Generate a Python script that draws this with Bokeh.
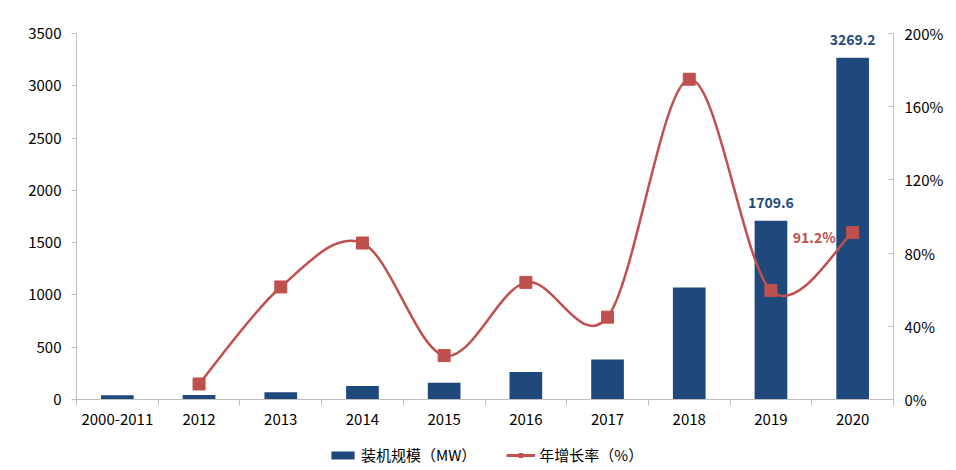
from bokeh.plotting import figure
from bokeh.layouts import column
from bokeh.models import (Range1d, LinearAxis, FixedTicker, PrintfTickFormatter,
                          Legend, LegendItem, ColumnDataSource)
from bokeh.core.properties import value
from bokeh.embed import file_html
from bokeh.resources import INLINE

# ---- data ----
categories = ["2000-2011", "2012", "2013", "2014", "2015", "2016", "2017", "2018", "2019", "2020"]
capacity = [39.8, 43.1, 70.0, 130.0, 161.0, 264.0, 383.0, 1072.0, 1709.6, 3269.2]
growth_years = ["2012", "2013", "2014", "2015", "2016", "2017", "2018", "2019", "2020"]
growth = [8.5, 61.5, 85.5, 24.0, 64.0, 45.0, 175.0, 59.5, 91.2]
cap_label_years = ["2019", "2020"]
cap_label_text = ["1709.6", "3269.2"]
growth_label_years = ["2020"]
growth_label_text = ["91.2%"]
left_ticks = [0, 500, 1000, 1500, 2000, 2500, 3000, 3500]
right_ticks = [0, 40, 80, 120, 160, 200]
legend_labels = ["装机规模（MW）", "年增长率（%）"]

FONT = "Noto Sans CJK SC"
BLUE = "#1F497D"
RED = "#C0504D"
GRAY = "#BFBFBF"

pos = {c: i + 0.5 for i, c in enumerate(categories)}

p = figure(width=950, height=440, output_backend="svg", toolbar_location=None,
           x_range=Range1d(0, len(categories)), y_range=Range1d(0, 3500))
p.extra_y_ranges = {"pct": Range1d(0, 200)}
p.min_border_left = 76
p.min_border_right = 57
p.min_border_top = 33
p.min_border_bottom = 41
p.outline_line_color = None
p.xgrid.visible = False
p.ygrid.visible = False

# bars
bar_src = ColumnDataSource(dict(x=[pos[c] for c in categories], top=capacity))
p.vbar(x="x", top="top", width=0.4, bottom=0, source=bar_src,
       fill_color=BLUE, line_color=None)

# smoothed growth line (Catmull-Rom bezier segments through data points)
gx = [pos[c] for c in growth_years]
gy = growth
n = len(gx)
x0, y0, x1, y1, cx0, cy0, cx1, cy1 = [], [], [], [], [], [], [], []
for i in range(n - 1):
    pxm = gx[i - 1] if i > 0 else gx[i]
    pym = gy[i - 1] if i > 0 else gy[i]
    pxp = gx[i + 2] if i + 2 < n else gx[i + 1]
    pyp = gy[i + 2] if i + 2 < n else gy[i + 1]
    x0.append(gx[i]); y0.append(gy[i]); x1.append(gx[i + 1]); y1.append(gy[i + 1])
    cx0.append(gx[i] + (gx[i + 1] - pxm) / 6); cy0.append(gy[i] + (gy[i + 1] - pym) / 6)
    cx1.append(gx[i + 1] - (pxp - gx[i]) / 6); cy1.append(gy[i + 1] - (pyp - gy[i]) / 6)
p.bezier(x0=x0, y0=y0, x1=x1, y1=y1, cx0=cx0, cy0=cy0, cx1=cx1, cy1=cy1,
         line_color=RED, line_width=2.5, y_range_name="pct")
p.scatter(x=gx, y=gy, marker="square", size=12, fill_color=RED,
          line_color=RED, y_range_name="pct")

# data labels
p.text(x=[pos[c] for c in cap_label_years],
       y=[capacity[categories.index(c)] for c in cap_label_years],
       text=cap_label_text, y_offset=-18, text_align="center", text_baseline="middle",
       text_font=value(FONT), text_font_size="14px", text_font_style="bold",
       text_color=BLUE)
p.text(x=[pos[c] for c in growth_label_years],
       y=[growth[growth_years.index(c)] for c in growth_label_years],
       text=growth_label_text, x_offset=-17, y_offset=4, text_align="right",
       text_baseline="middle", text_font=value(FONT), text_font_size="14px",
       text_font_style="bold", text_color=RED, y_range_name="pct")

# axes
xa = p.xaxis[0]
xa.ticker = FixedTicker(ticks=[pos[c] for c in categories],
                        minor_ticks=list(range(len(categories) + 1)))
xa.major_label_overrides = {pos[c]: c for c in categories}
xa.major_tick_line_color = None
xa.major_tick_out = 6
xa.major_tick_in = 0
xa.minor_tick_line_color = GRAY
xa.minor_tick_out = 6
xa.minor_tick_in = 0
xa.axis_line_color = GRAY
xa.major_label_standoff = 8
xa.major_label_text_font = FONT
xa.major_label_text_font_size = "15px"
xa.major_label_text_color = "#000000"

ya = p.yaxis[0]
ya.ticker = FixedTicker(ticks=left_ticks)
ya.minor_tick_line_color = None
ya.major_tick_line_color = GRAY
ya.major_tick_out = 5
ya.major_tick_in = 0
ya.axis_line_color = GRAY
ya.major_label_standoff = 10
ya.major_label_text_font = FONT
ya.major_label_text_font_size = "15px"
ya.major_label_text_color = "#000000"

ra = LinearAxis(y_range_name="pct", ticker=FixedTicker(ticks=right_ticks),
                formatter=PrintfTickFormatter(format="%d%%"))
ra.minor_tick_line_color = None
ra.major_tick_line_color = GRAY
ra.major_tick_out = 0
ra.major_tick_in = 5
ra.axis_line_color = GRAY
ra.major_label_standoff = 11
ra.major_label_text_font = FONT
ra.major_label_text_font_size = "15px"
ra.major_label_text_color = "#000000"
p.add_layout(ra, "right")

# legend strip (separate figure under the chart; sample glyphs sit outside its ranges)
lg = figure(width=950, height=30, output_backend="svg", toolbar_location=None,
            x_range=Range1d(0, 1), y_range=Range1d(0, 1),
            x_axis_location=None, y_axis_location=None)
lg.min_border = 0
lg.outline_line_color = None
lg.xgrid.visible = False
lg.ygrid.visible = False
r_bar = lg.vbar(x=[-5, -4], top=[-5, -5], bottom=[-6, -6], width=0.4,
                fill_color=BLUE, line_color=None)
r_line = lg.line(x=[-5, -4], y=[-5, -5], line_color=RED, line_width=3)
r_mark = lg.scatter(x=[-5, -4], y=[-5, -5], marker="square", size=11,
                    fill_color=RED, line_color=RED)
legend = Legend(items=[LegendItem(label=legend_labels[0], renderers=[r_bar]),
                       LegendItem(label=legend_labels[1], renderers=[r_line, r_mark])],
                orientation="horizontal", location=(252, 5))
legend.glyph_width = 29
legend.glyph_height = 10
legend.label_standoff = 4
legend.spacing = 30
legend.padding = 0
legend.margin = 0
legend.border_line_color = None
legend.background_fill_alpha = 0
legend.label_text_font = FONT
legend.label_text_font_size = "15px"
legend.label_text_color = "#000000"
legend.label_text_baseline = "middle"
lg.add_layout(legend, "center")

layout = column(p, lg, spacing=0)
open("out.html", "w").write(file_html(layout, INLINE))
